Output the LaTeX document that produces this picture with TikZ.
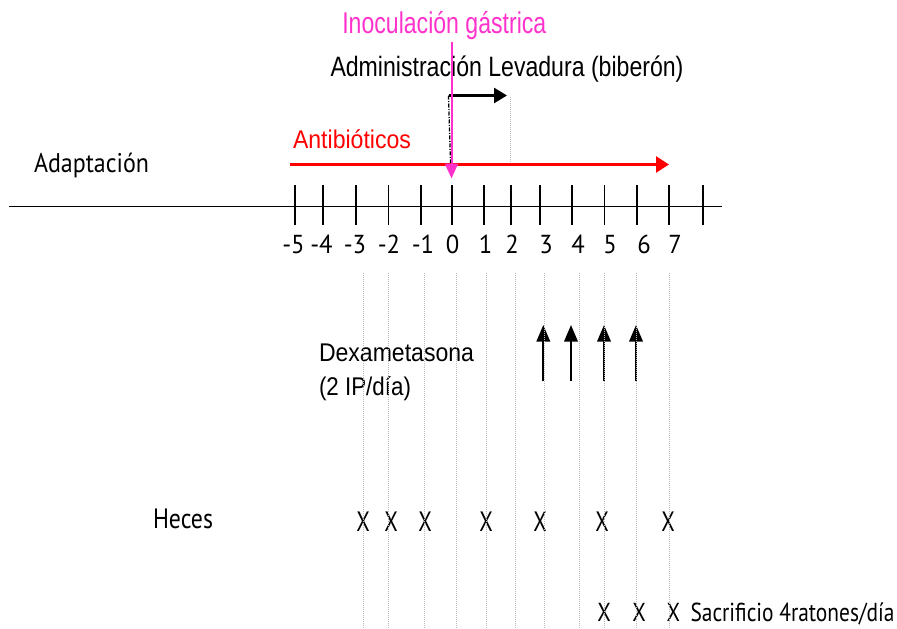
\documentclass[tikz,border=0pt]{standalone}
\usepackage{fontspec}
\setmainfont{Liberation Sans}
\newfontfamily\cond{PT Sans}
\usetikzlibrary{arrows.meta}
\definecolor{mag}{RGB}{255,51,204}
\definecolor{dotgray}{RGB}{185,185,185}
\newcommand\tw[2]{\resizebox{#1}{\height}{#2}}
\begin{document}
\begin{tikzpicture}[x=1pt,y=-1pt,
  txt/.style={inner sep=0pt,outer sep=0pt,anchor=base west},
  ctxt/.style={inner sep=0pt,outer sep=0pt,anchor=base},
  arial/.style={font=\fontsize{#1}{#1}\selectfont},
  condf/.style={font=\cond\fontsize{#1}{#1}\selectfont},
  axisline/.style={line width=1.3pt,black},
  tickline/.style={line width=1.2pt,black},
  guide/.style={dotgray,line width=1pt,dash pattern=on 1pt off 1pt},
  redarrow/.style={red,line width=2.6pt,-{Triangle[length=13pt,width=16pt]}},
  magarrow/.style={mag,line width=2pt,-{Triangle[length=15pt,width=13pt]}},
  blkarrow/.style={black,line width=2.6pt,-{Triangle[length=13pt,width=15pt]}},
  dexarrow/.style={black,line width=1.8pt,-{Triangle[length=16.5pt,width=13.5pt]}},
  dashdot/.style={black,line width=1.3pt,dash pattern=on 4pt off 1.5pt on 1pt off 1.5pt}
]
\useasboundingbox (0,0) rectangle (897,629);

% axis
\coordinate (axL) at (9,206.5);
\coordinate (axR) at (722,206.5);
\draw[axisline] (axL) -- (axR);

% ticks and labels
\foreach \n/\x in {a/295,b/323,c/356,d/388.5,e/421,f/452,g/484,h/511,i/540,j/572,k/604.5,l/637,m/669,n/703}{
  \coordinate (tt\n) at (\x,185);
  \coordinate (tb\n) at (\x,225);
  \draw[tickline] (tt\n) -- (tb\n);
}
\foreach \n/\x/\t in {a/293.5/-5,b/321.5/-4,c/355/-3,d/389/-2,e/423/-1,f/452.5/0,g/485.5/1,h/512/2,i/546/3,j/578/4,k/610/5,l/644/6,m/675/7}{
  \node[ctxt,condf=26] (lab\n) at (\x,253) {\scalebox{0.95}[1]{\t}};
}

% Adaptacion
\node[txt,condf=27] (adapt) at (34,172.3) {\tw{115pt}{Adaptación}};

% Antibioticos
\coordinate (redS) at (290,164.5);
\coordinate (redE) at (669,164.5);
\draw[redarrow] (redS) -- (redE);
\node[txt,arial=25.6,text=red] (anti) at (293,148.3) {\tw{118pt}{Antibióticos}};

% Administracion Levadura
\node[txt,arial=28] (admin) at (330.5,76.7) {\tw{353pt}{Administración Levadura (biberón)}};
\coordinate (levS) at (448.5,95.5);
\coordinate (levE) at (507,95.5);
\coordinate (levB) at (450.5,163);
\draw[dashdot] (levS) -- (levB);
\draw[blkarrow] (levS) -- (levE);
\coordinate (d2T) at (510.7,97);
\coordinate (d2B) at (510.7,162);
\draw[guide,line width=0.9pt] (d2T) -- (d2B);

% Inoculacion gastrica
\node[txt,arial=30,text=mag] (inoc) at (342.3,33.3) {\tw{204pt}{Inoculación gástrica}};
\coordinate (magS) at (451.5,42);
\coordinate (magE) at (451.5,178.5);
\draw[magarrow] (magS) -- (magE);

% Dexametasona
\node[txt,arial=25.6] (dexa) at (319,361.7) {\tw{155pt}{Dexametasona}};
\node[txt,arial=25.6] (dexb) at (319,395) {\tw{92pt}{(2 IP/día)}};
\foreach \n/\x in {a/543.3,b/571,c/604,d/636}{
  \coordinate (dx\n B) at (\x,381);
  \coordinate (dx\n T) at (\x,325);
  \draw[dexarrow] (dx\n B) -- (dx\n T);
}

% Heces
\node[txt,condf=28] (heces) at (153,528) {\tw{60pt}{Heces}};
\foreach \n/\x in {a/363,b/391,c/425,d/486,e/540,f/602,g/668}{
  \node[ctxt,condf=28] (hx\n) at (\x,531.7) {\tw{13.5pt}{X}};
}

% Sacrificio
\foreach \n/\x in {a/604,b/639,c/673.3}{
  \node[ctxt,condf=26] (sx\n) at (\x,621.5) {\tw{13.5pt}{X}};
}
\node[txt,condf=26] (sacr) at (690.5,621.5) {\tw{204pt}{Sacrificio 4ratones/día}};

% guide lines (drawn on top)
\foreach \n/\x in {a/363,b/388,c/424.5,d/456.5,e/486,f/515,g/544,h/579.5,i/604,j/636,k/669}{
  \coordinate (gT\n) at (\x,273);
  \coordinate (gB\n) at (\x,629);
  \draw[guide] (gT\n) -- (gB\n);
}
\end{tikzpicture}
\end{document}
